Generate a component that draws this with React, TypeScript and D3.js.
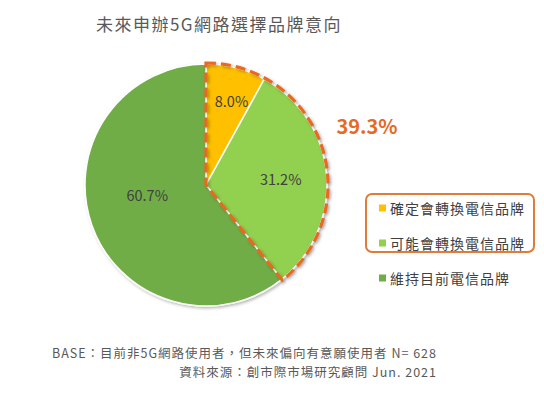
import React from "react";
import * as d3 from "d3";

const categories = ["確定會轉換電信品牌", "可能會轉換電信品牌", "維持目前電信品牌"];
const values = [8.0, 31.2, 60.7];
const colors = ["#FFC000", "#92D050", "#70AD47"];
const labels = ["8.0%", "31.2%", "60.7%"];
const highlightLabel = "39.3%";
const title = "未來申辦5G網路選擇品牌意向";
const notes = [
  "BASE：目前非5G網路使用者，但未來偏向有意願使用者 N= 628",
  "資料來源：創市際市場研究顧問 Jun. 2021",
];

const W = 544, H = 393;
const cx = 206, cy = 185, R = 121;
const font = "'Noto Sans CJK TC', 'Noto Sans', sans-serif";

export default function App() {
  const total = d3.sum(values);
  const pie = d3.pie<number>().sort(null).value((d) => d)(values.map((v) => v / total * 100));
  const arc = d3.arc<d3.PieArcDatum<number>>().innerRadius(0).outerRadius(R);
  const hl = { startAngle: pie[0].startAngle, endAngle: pie[1].endAngle, padAngle: 0, data: 0, value: 0, index: 0 } as d3.PieArcDatum<number>;
  const hlPath = d3.arc<d3.PieArcDatum<number>>().innerRadius(0).outerRadius(R + 1)(hl) || "";
  const labelPos = [
    [2, 7, 0.78],
    [0, 0, 0.62],
    [4, -13, 0.55],
  ];
  return (
    <svg width={W} height={H} style={{ position: "absolute", left: 0, top: 0, background: "#fff" }}>
      <defs>
        <filter id="sh" x="-20%" y="-20%" width="140%" height="140%">
          <feDropShadow dx="1.5" dy="1.5" stdDeviation="1.5" floodColor="#000" floodOpacity="0.3" />
        </filter>
      </defs>
      <text x={219} y={31} textAnchor="middle" fontSize={17} letterSpacing={1.5} fill="#595959" fontFamily={font}>{title}</text>
      <g transform={`translate(${cx},${cy})`}>
        <g filter="url(#sh)">
          {pie.map((p, i) => (
            <path key={i} d={arc(p) || ""} fill={colors[i]} stroke="#fff" strokeWidth={1.5} />
          ))}
        </g>
        <path d={hlPath} fill="none" stroke="#E86A22" strokeWidth={3.2} strokeDasharray="10,5" filter="url(#sh)" />
        {pie.map((p, i) => {
          const la = d3.arc<d3.PieArcDatum<number>>().innerRadius(R * labelPos[i][2]).outerRadius(R * labelPos[i][2]);
          const [x, y] = la.centroid(p);
          return (
            <text key={i} x={x + labelPos[i][0]} y={y + labelPos[i][1]} textAnchor="middle" dominantBaseline="central" fontSize={14.5} fill="#404040" fontFamily={font}>{labels[i]}</text>
          );
        })}
      </g>
      <text x={367} y={134} textAnchor="middle" fontSize={20} fontWeight="bold" fill="#E86A22" fontFamily={font}>{highlightLabel}</text>
      <rect x={366} y={194} width={168} height={58} rx={6} fill="none" stroke="#E07B39" strokeWidth={2} />
      {categories.map((c, i) => {
        const y = 208 + i * 35;
        return (
          <g key={i}>
            <rect x={379} y={y - 3.5} width={7} height={7} fill={colors[i]} />
            <text x={390} y={y} dominantBaseline="central" fontSize={14} letterSpacing={1} fill="#404040" fontFamily={font}>{c}</text>
          </g>
        );
      })}
      {notes.map((n, i) => (
        <text key={i} x={437} y={358 + i * 19} textAnchor="end" fontSize={12.5} letterSpacing={1} fill="#595959" fontFamily={font}>{n}</text>
      ))}
    </svg>
  );
}
